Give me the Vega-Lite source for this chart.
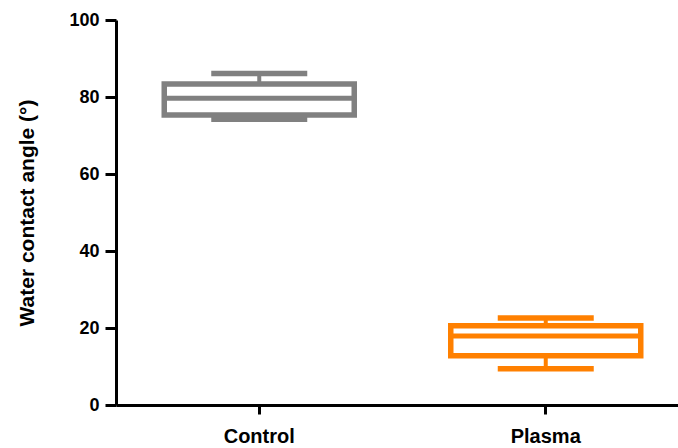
{
  "$schema": "https://vega.github.io/schema/vega-lite/v6.json",
  "autosize": {"type": "none"},
  "padding": {"left": 116, "top": 20, "right": 0, "bottom": 43},
  "width": 573,
  "height": 385,
  "background": "white",
  "config": {
    "view": {"stroke": null},
    "font": "Liberation Sans"
  },
  "data": {
    "values": [
      {"group": "Control", "lower": 74.2, "q1": 75.3, "median": 79.7, "q3": 83.4, "upper": 86.1},
      {"group": "Plasma", "lower": 9.4, "q1": 12.8, "median": 17.9, "q3": 20.6, "upper": 22.6}
    ]
  },
  "encoding": {
    "x": {
      "field": "group", "type": "nominal", "sort": ["Control", "Plasma"],
      "scale": {"paddingInner": 0, "paddingOuter": 0},
      "axis": {
        "title": null, "labelAngle": 0, "labelFont": "Liberation Sans", "labelFontWeight": "bold",
        "labelFontSize": 20, "labelColor": "black", "labelPadding": 12,
        "domainColor": "black", "domainWidth": 3, "tickColor": "black", "tickWidth": 3, "tickSize": 9
      }
    },
    "color": {
      "field": "group", "type": "nominal",
      "scale": {"domain": ["Control", "Plasma"], "range": ["#808080", "#FF8000"]},
      "legend": null
    }
  },
  "layer": [
    {
      "mark": {"type": "rule", "strokeWidth": 4},
      "encoding": {
        "y": {"field": "q3", "type": "quantitative"},
        "y2": {"field": "upper"}
      }
    },
    {
      "mark": {"type": "rule", "strokeWidth": 4},
      "encoding": {
        "y": {"field": "lower", "type": "quantitative"},
        "y2": {"field": "q1"}
      }
    },
    {
      "mark": {"type": "bar", "fill": "white", "strokeWidth": 5.5, "size": 190},
      "encoding": {
        "y": {
          "field": "q1", "type": "quantitative",
          "scale": {"domain": [0, 100]},
          "axis": {
            "title": "Water contact angle (°)", "titleFont": "Liberation Sans", "titleFontWeight": "bold",
            "titleFontSize": 21, "titleColor": "black", "titlePadding": 31,
            "values": [0, 20, 40, 60, 80, 100], "grid": false,
            "labelFont": "Liberation Sans", "labelFontWeight": "bold", "labelFontSize": 18,
            "labelColor": "black", "labelPadding": 6,
            "domainColor": "black", "domainWidth": 3, "tickColor": "black", "tickWidth": 3, "tickSize": 11
          }
        },
        "y2": {"field": "q3"},
        "stroke": {
          "field": "group", "type": "nominal",
          "scale": {"domain": ["Control", "Plasma"], "range": ["#808080", "#FF8000"]},
          "legend": null
        }
      }
    },
    {
      "mark": {"type": "tick", "thickness": 5, "size": 192, "opacity": 1},
      "encoding": {"y": {"field": "median", "type": "quantitative"}}
    },
    {
      "mark": {"type": "tick", "thickness": 5.5, "size": 96, "opacity": 1},
      "encoding": {"y": {"field": "upper", "type": "quantitative"}}
    },
    {
      "mark": {"type": "tick", "thickness": 5.5, "size": 96, "opacity": 1},
      "encoding": {"y": {"field": "lower", "type": "quantitative"}}
    }
  ]
}
